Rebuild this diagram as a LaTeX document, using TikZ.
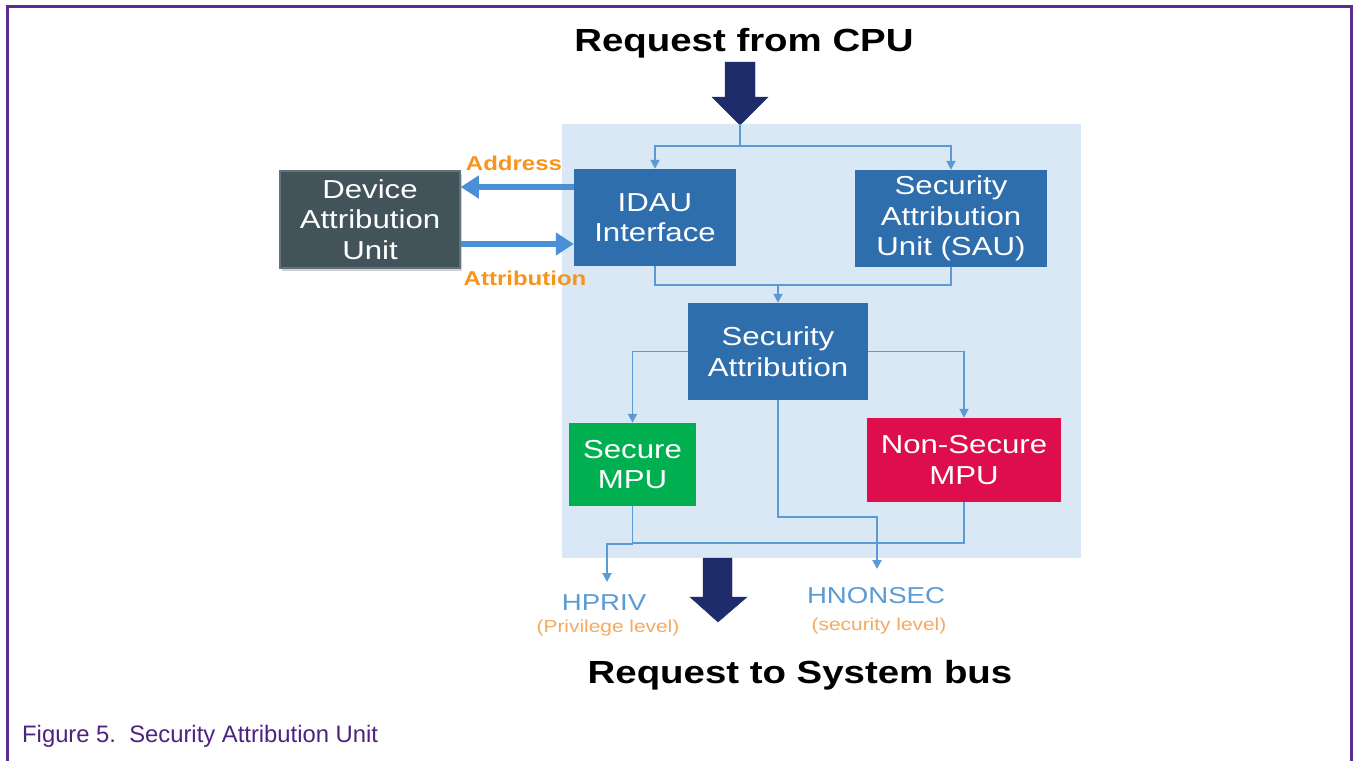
\documentclass[tikz,border=0pt]{standalone}
\usepackage{fontspec}
\setmainfont{Liberation Sans}
\newfontfamily\diag[FakeStretch=1.2]{Liberation Sans}
\usetikzlibrary{arrows.meta,shadows}

\definecolor{framepurple}{HTML}{5C2D91}
\definecolor{captionpurple}{HTML}{4E2280}
\definecolor{panelblue}{HTML}{DAE7F4}
\definecolor{boxblue}{HTML}{2F6EAD}
\definecolor{wireblue}{HTML}{5B9BD5}
\definecolor{busblue}{HTML}{4A90D9}
\definecolor{navy}{HTML}{1F2C6B}
\definecolor{labelorange}{HTML}{F7941D}
\definecolor{lightorange}{HTML}{F5AA60}
\definecolor{mpugreen}{HTML}{00B050}
\definecolor{mpured}{HTML}{DE0E4C}
\definecolor{slate}{HTML}{42535A}
\definecolor{slateedge}{HTML}{62727A}

\tikzset{
  unitbox/.style={fill=boxblue, text=white, align=center, inner sep=0pt,
    font=\diag\fontsize{26}{30.5}\selectfont},
  conn/.style={draw=wireblue, line width=1.9pt},
  tipped/.style={conn, -{Triangle[length=9pt,width=9pt]}},
  busarrow/.style={draw=busblue, line width=6pt, -{Triangle[length=18pt,width=22pt]}},
  sidelabel/.style={text=labelorange, font=\diag\bfseries\fontsize{20}{24}\selectfont, inner sep=0pt},
  signame/.style={text=wireblue, font=\diag\fontsize{23}{26}\selectfont, inner sep=0pt},
  sigdesc/.style={text=lightorange, font=\diag\fontsize{17.4}{20}\selectfont, inner sep=0pt},
  heading/.style={font=\diag\bfseries\fontsize{32}{36}\selectfont, inner sep=0pt},
  bigarrow/.style={fill=navy, draw=navy, line join=miter}
}

\begin{document}
\begin{tikzpicture}[x=1pt, y=-1pt]
  \useasboundingbox (0,0) rectangle (1353,761);
  \fill[white] (0,0) rectangle (1353,761);

  % page frame
  \draw[framepurple, line width=3pt] (7,761) -- (7,6) -- (1351,6) -- (1351,761);

  % headings
  \node[heading, anchor=base] (reqcpu) at (744,51) {Request from CPU};
  \node[heading, anchor=base] (reqbus) at (800,683) {Request to System bus};

  % caption
  \node[anchor=base west, inner sep=0pt, text=captionpurple,
        font=\fontsize{23.8}{28}\selectfont] (caption) at (22,742)
        {Figure 5.\ \ Security Attribution Unit};

  % shaded panel behind the attribution logic
  \fill[panelblue] (562,124) rectangle (1081,558);

  % incoming request arrow
  \filldraw[bigarrow] (725,62) -- (755,62) -- (755,97) -- (768,97) -- (740,125)
    -- (712,97) -- (725,97) -- cycle;
  \coordinate (cputip) at (740,124);

  % outgoing request arrow
  \filldraw[bigarrow] (703,558) -- (732,558) -- (732,597) -- (747,597) -- (718,622)
    -- (690,597) -- (703,597) -- cycle;

  % blocks
  \node[fill=slate, draw=slateedge, line width=1.5pt, text=white, align=center,
        inner sep=0pt, minimum width=180pt, minimum height=97pt,
        font=\diag\fontsize{26}{30.5}\selectfont,
        drop shadow={shadow xshift=2pt, shadow yshift=-3pt, opacity=0.35}]
        (dau) at (370,219.5) {Device\\Attribution\\Unit};
  \node[unitbox, minimum width=162pt, minimum height=97pt] (idau) at (655,217.5)
        {IDAU\\Interface};
  \node[unitbox, minimum width=192pt, minimum height=97pt] (sau) at (951,218.5)
        {Security\\Attribution\\Unit (SAU)};
  \node[unitbox, minimum width=180pt, minimum height=97pt] (sa) at (778,351.5)
        {Security\\Attribution};
  \node[unitbox, fill=mpugreen, minimum width=127pt, minimum height=83pt] (smpu)
        at (632.5,464.5) {Secure\\MPU};
  \node[unitbox, fill=mpured, minimum width=194pt, minimum height=84pt] (nsmpu)
        at (964,460) {Non-Secure\\MPU};

  % address / attribution exchange
  \draw[busarrow] (idau.west |- 0,187) -- (dau.east |- 0,187);
  \draw[busarrow] (dau.east |- 0,244) -- (idau.west |- 0,244);
  \node[sidelabel] (addr) at (514,163) {Address};
  \node[sidelabel] (attr) at (525,278) {Attribution};

  % request split to IDAU and SAU
  \draw[conn] (cputip) -- (740,146) coordinate (split);
  \draw[tipped] (split) -| (idau.north);
  \draw[tipped] (split) -| (sau.north);

  % IDAU and SAU results merged into the security attribution
  \draw[conn] (idau.south) |- (778,285) coordinate (merge) -| (sau.south);
  \draw[tipped] (merge) -- (sa.north);

  % attribution to the two MPUs
  \draw[tipped] (sa.west) -| (smpu.north);
  \draw[tipped] (sa.east) -| (nsmpu.north);

  % output signals
  \node[signame] (hpriv) at (604,603) {HPRIV};
  \node[sigdesc] (privdesc) at (608,628) {(Privilege level)};
  \node[signame] (hnonsec) at (876,596) {HNONSEC};
  \node[sigdesc] (secdesc) at (879,626) {(security level)};

  \coordinate (privtip) at (607,582);
  \coordinate (nstip) at (877,569);

  \draw[tipped] (sa.south) |- (877,517) -- (nstip);
  \draw[conn] (nsmpu.south) |- (632.5,543);
  \draw[tipped] (smpu.south) |- (632.5,544) -| (privtip);
\end{tikzpicture}
\end{document}
